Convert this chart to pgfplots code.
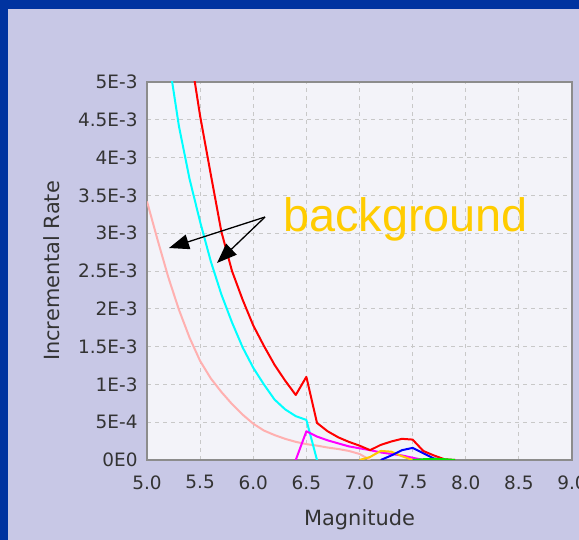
\documentclass[border=0pt]{standalone}
\usepackage{fontspec}
\setmainfont{DejaVu Sans}
\newfontfamily\annotfont{Liberation Sans}
\usepackage{pgfplots}
\pgfplotsset{compat=1.18}
\usetikzlibrary{arrows.meta}

\definecolor{frameblue}{RGB}{0,51,160}
\definecolor{panel}{RGB}{200,200,230}
\definecolor{plotbg}{RGB}{243,243,249}
\definecolor{gridgray}{RGB}{200,200,200}
\definecolor{framegray}{RGB}{140,140,140}
\definecolor{labeltext}{RGB}{51,51,51}
\definecolor{bgpink}{RGB}{255,176,176}
\definecolor{bgcyan}{RGB}{0,255,255}
\definecolor{srcred}{RGB}{255,0,0}
\definecolor{srcmagenta}{RGB}{255,0,255}
\definecolor{srcorange}{RGB}{255,200,0}
\definecolor{srcblue}{RGB}{0,0,255}
\definecolor{srcgreen}{RGB}{0,230,0}
\definecolor{annotyellow}{RGB}{255,204,0}

\begin{document}
\begin{tikzpicture}
\useasboundingbox (0bp,0bp) rectangle (579bp,540bp);
\clip (0bp,0bp) rectangle (579bp,540bp);
\fill[frameblue] (0bp,0bp) rectangle (579bp,540bp);
\fill[panel] (8bp,0bp) rectangle (579bp,531bp);
\begin{axis}[
  at={(147bp,80bp)}, anchor=south west,
  scale only axis, width=425bp, height=378bp,
  xmin=5, xmax=9, ymin=0, ymax=0.005,
  axis background/.style={fill=plotbg},
  axis line style={draw=framegray, line width=1.2bp},
  grid=major,
  grid style={draw=gridgray, line width=0.8bp, dash pattern=on 4bp off 4bp},
  major tick length=0pt,
  scaled y ticks=false, scaled x ticks=false,
  xtick={5,5.5,6,6.5,7,7.5,8,8.5,9},
  xticklabels={5.0,5.5,6.0,6.5,7.0,7.5,8.0,8.5,9.0},
  ytick={0,0.0005,0.001,0.0015,0.002,0.0025,0.003,0.0035,0.004,0.0045,0.005},
  yticklabels={0E0,5E-4,1E-3,1.5E-3,2E-3,2.5E-3,3E-3,3.5E-3,4E-3,4.5E-3,5E-3},
  ticklabel style={font=\fontsize{18.5}{21}\selectfont, text=labeltext},
  xticklabel style={yshift=-12bp},
  yticklabel style={xshift=-6bp},
  xlabel={Magnitude}, ylabel={Incremental Rate},
  label style={font=\fontsize{21}{24}\selectfont, text=labeltext},
  xlabel style={at={(axis description cs:0.5,-0.172)}, anchor=base},
  ylabel style={at={(axis description cs:-0.2235,0.5)}, anchor=center},
  every axis plot/.append style={line width=2bp, line join=round, no markers},
]
% background sources
\addplot[bgpink] coordinates {
 (5.0,3.42e-3) (5.1,2.91e-3) (5.2,2.42e-3) (5.3,1.99e-3) (5.4,1.62e-3)
 (5.5,1.31e-3) (5.6,1.08e-3) (5.7,0.90e-3) (5.8,0.74e-3) (5.9,0.60e-3)
 (6.0,0.48e-3) (6.1,0.39e-3) (6.2,0.33e-3) (6.3,0.28e-3) (6.4,0.24e-3)
 (6.5,0.21e-3) (6.6,0.19e-3) (6.7,0.165e-3) (6.8,0.145e-3) (6.9,0.12e-3)
 (7.0,0.08e-3) (7.1,0)};
\addplot[bgcyan] coordinates {
 (5.2,5.34e-3) (5.3,4.42e-3) (5.4,3.72e-3) (5.5,3.15e-3) (5.6,2.63e-3)
 (5.7,2.19e-3) (5.8,1.82e-3) (5.9,1.49e-3) (6.0,1.22e-3) (6.1,1.00e-3)
 (6.2,0.80e-3) (6.3,0.67e-3) (6.4,0.58e-3) (6.5,0.53e-3) (6.6,0)};
% individual sources
\addplot[srcmagenta] coordinates {
 (6.4,0) (6.5,0.38e-3) (6.6,0.31e-3) (6.7,0.26e-3) (6.8,0.22e-3)
 (6.9,0.18e-3) (7.0,0.155e-3) (7.1,0.13e-3) (7.2,0.10e-3) (7.3,0.08e-3)
 (7.4,0.06e-3) (7.5,0.03e-3) (7.6,0)};
\addplot[srcorange] coordinates {
 (7.0,0) (7.1,0.04e-3) (7.2,0.12e-3) (7.3,0.11e-3) (7.4,0.05e-3) (7.5,0)};
\addplot[srcblue] coordinates {
 (7.2,0) (7.3,0.06e-3) (7.4,0.13e-3) (7.5,0.16e-3) (7.6,0.09e-3)
 (7.7,0.02e-3) (7.8,0)};
% total
\addplot[srcred] coordinates {
 (5.4,5.45e-3) (5.5,4.55e-3) (5.6,3.78e-3) (5.7,3.02e-3) (5.8,2.50e-3)
 (5.9,2.12e-3) (6.0,1.78e-3) (6.1,1.51e-3) (6.2,1.26e-3) (6.3,1.05e-3)
 (6.4,0.86e-3) (6.5,1.10e-3) (6.6,0.49e-3) (6.7,0.38e-3) (6.8,0.30e-3)
 (6.9,0.24e-3) (7.0,0.19e-3) (7.1,0.13e-3) (7.2,0.20e-3) (7.3,0.245e-3)
 (7.4,0.28e-3) (7.5,0.27e-3) (7.6,0.12e-3) (7.7,0.06e-3) (7.8,0.01e-3)
 (7.9,0)};
\addplot[srcgreen] coordinates {
 (7.5,0) (7.6,0.01e-3) (7.7,0.015e-3) (7.8,0.01e-3) (7.9,0)};
% annotation
\node[anchor=base west, inner sep=0pt, text=annotyellow,
      font=\annotfont\fontsize{47}{50}\selectfont] at (axis cs:6.28,0.00302) {background};
\draw[black, line width=1.3bp, -{Triangle[length=20bp,width=15bp]}]
  (axis cs:6.111,0.003214) -- (axis cs:5.207,0.002804);
\draw[black, line width=1.3bp, -{Triangle[length=20bp,width=15bp]}]
  (axis cs:6.111,0.003214) -- (axis cs:5.659,0.002606);
\end{axis}
\end{tikzpicture}
\end{document}
